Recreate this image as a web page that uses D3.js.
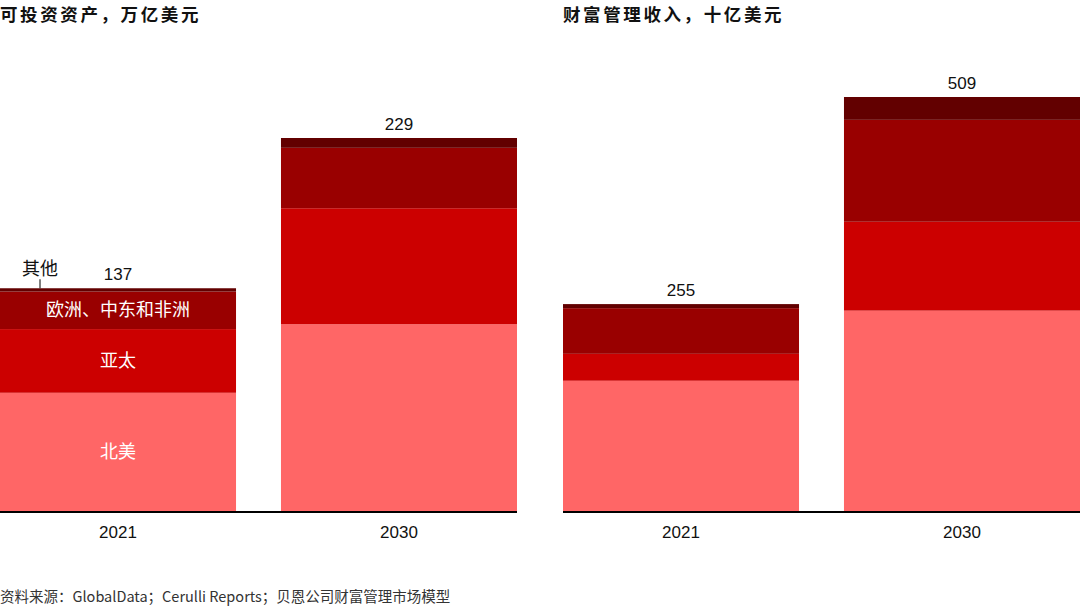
<!DOCTYPE html>
<html><head><meta charset="utf-8">
<script src="https://cdn.jsdelivr.net/npm/d3@7"></script>
<style>
body{margin:0;background:#fff;}
text{font-family:"Liberation Sans",Arial,"Noto Sans CJK SC",sans-serif;}
</style></head>
<body><svg id="c" width="1080" height="607"></svg>
<script>
const years = ["2021", "2030"];
const segments = ["北美", "亚太", "欧洲、中东和非洲", "其他"];
const colors = ["#ff6666", "#cc0000", "#990000", "#620000"];
// 可投资资产，万亿美元
const assetsNA = [73, 115];
const assetsAPAC = [39, 71];
const assetsEMEA = [23, 37];
const assetsOther = [2, 6];
const assetsTotals = [137, 229];
// 财富管理收入，十亿美元
const revenueNA = [161, 247];
const revenueAPAC = [33, 109];
const revenueEMEA = [56, 125];
const revenueOther = [5, 28];
const revenueTotals = [255, 509];

const titles = ["可投资资产，万亿美元", "财富管理收入，十亿美元"];
const source = "资料来源：GlobalData；Cerulli Reports；贝恩公司财富管理市场模型";

const svg = d3.select("#c");
const baseY = 512;

function panel(x0, x1, title, series, totals, topY, labels) {
  const rows = years.map((y, i) => ({year: y, s0: series[0][i], s1: series[1][i], s2: series[2][i], s3: series[3][i], total: totals[i]}));
  const stack = d3.stack().keys(["s0","s1","s2","s3"])(rows);
  const x = d3.scaleBand().domain(years).range([x0, x1]).paddingInner(0.16).paddingOuter(0);
  const y = d3.scaleLinear().domain([0, d3.max(totals)]).range([baseY, topY]);
  const g = svg.append("g");
  g.append("text").attr("x", x0).attr("y", 21).attr("font-size", 17.5).attr("font-weight", "bold")
    .attr("letter-spacing", 2.6)
    .attr("fill", "#111").style("font-family", '"Noto Sans CJK SC",sans-serif').text(title);
  stack.forEach((layer, li) => {
    g.selectAll(null).data(layer).enter().append("rect")
      .attr("x", d => x(d.data.year)).attr("width", x.bandwidth())
      .attr("y", d => y(d[1])).attr("height", d => y(d[0]) - y(d[1]))
      .attr("fill", colors[li]);
  });
  g.selectAll(null).data(rows).enter().append("text")
    .attr("x", d => x(d.year) + x.bandwidth()/2).attr("y", d => y(d.total) - 8)
    .attr("text-anchor", "middle").attr("font-size", 17).attr("fill", "#111").text(d => d.total);
  const axis = d3.axisBottom(x).tickSize(0).tickPadding(14);
  const ag = g.append("g").attr("transform", `translate(0,${baseY})`).call(axis);
  ag.select(".domain").attr("stroke", "#000").attr("stroke-width", 2).attr("d", `M${x0},0H${x1}`);
  ag.selectAll("text").attr("font-size", 17).attr("fill", "#111")
    .style("font-family", '"Liberation Sans",Arial,sans-serif');
  if (labels) {
    const d0 = stack.map(l => l[0]);
    const cx = x(years[0]) + x.bandwidth()/2;
    [0,1,2].forEach(li => {
      g.append("text").attr("x", cx).attr("y", (y(d0[li][0]) + y(d0[li][1]))/2 + 6)
        .attr("text-anchor", "middle").attr("font-size", 18).attr("fill", "#fff")
        .style("font-family", '"Noto Sans CJK SC",sans-serif').text(segments[li]);
    });
    const top = y(d0[3][1]);
    g.append("line").attr("x1", 40).attr("x2", 40).attr("y1", top - 9).attr("y2", top)
      .attr("stroke", "#000").attr("stroke-width", 1);
    g.append("text").attr("x", 40).attr("y", top - 13).attr("text-anchor", "middle")
      .attr("font-size", 18).attr("fill", "#111")
      .style("font-family", '"Noto Sans CJK SC",sans-serif').text(segments[3]);
  }
}

panel(0, 517, titles[0], [assetsNA, assetsAPAC, assetsEMEA, assetsOther], assetsTotals, 138, true);
panel(563, 1080, titles[1], [revenueNA, revenueAPAC, revenueEMEA, revenueOther], revenueTotals, 97, false);

svg.append("text").attr("x", 0).attr("y", 602).attr("font-size", 14.5).attr("fill", "#333")
  .style("font-family", '"Noto Sans CJK SC",sans-serif').text(source);
</script></body></html>
